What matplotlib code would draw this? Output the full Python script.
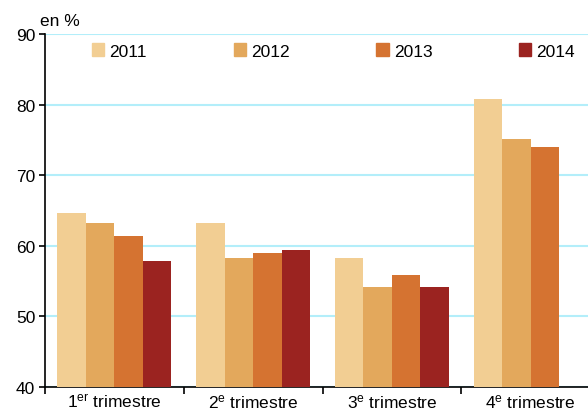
import numpy as np
import matplotlib
matplotlib.use('Agg')
import matplotlib.pyplot as plt
from matplotlib.patches import Patch

plt.rcParams['font.family'] = ['Liberation Sans', 'DejaVu Sans']
plt.rcParams['mathtext.fontset'] = 'custom'
plt.rcParams['mathtext.rm'] = 'Liberation Sans'
plt.rcParams['mathtext.it'] = 'Liberation Sans'

quarters = ['1$^{\\mathrm{er}}$ trimestre', '2$^{\\mathrm{e}}$ trimestre',
            '3$^{\\mathrm{e}}$ trimestre', '4$^{\\mathrm{e}}$ trimestre']
years = ['2011', '2012', '2013', '2014']
v2011 = [64.6, 63.2, 58.3, 80.8]
v2012 = [63.2, 58.3, 54.2, 75.1]
v2013 = [61.4, 59.0, 55.8, 74.0]
v2014 = [57.8, 59.4, 54.2, np.nan]
colors = ['#F2CE93', '#E3A85C', '#D57331', '#9B2320']

fig = plt.figure(figsize=(5.88, 4.14), dpi=100)
# axis runs past the right edge, as in the reference
ax = fig.add_axes([45/588, 1-388/414, 555/588, 353/414])

x = np.arange(len(quarters))
w = 0.205
series = [v2011, v2012, v2013, v2014]
for i, vals in enumerate(series):
    ax.bar(x + (i - 1.5) * w, vals, w, color=colors[i], zorder=3)

ax.set_ylim(40, 90)
ax.set_xlim(-0.5, 3.5)
ax.set_yticks([40, 50, 60, 70, 80, 90])
ax.yaxis.grid(True, color='#B3EEFA', linewidth=1.5, zorder=0)
ax.set_axisbelow(True)
for s in ['top', 'right']:
    ax.spines[s].set_visible(False)
ax.spines['left'].set_linewidth(1.2)
ax.spines['bottom'].set_linewidth(1.2)

ax.set_xticks([-0.5, 0.5, 1.5, 2.5, 3.5])
ax.set_xticklabels([])
ax.set_xticks(x, minor=True)
ax.set_xticklabels(quarters, minor=True, fontsize=12.5)
ax.tick_params(axis='x', which='minor', length=0, pad=4)
ax.tick_params(axis='x', which='major', length=5, width=1.2, direction='out')
ax.tick_params(axis='y', length=4, width=1.2, labelsize=12.5, pad=3)

fig.text(40/588, 1-21/414, 'en %', fontsize=12.5, va='center', ha='left')

handles = [Patch(color=c) for c in colors]
ax.legend(handles, years, ncol=4, loc='center left', frameon=False,
          bbox_to_anchor=(40/555, 1-17/353), fontsize=12.5,
          handlelength=0.7, handleheight=0.7, handletextpad=0.3,
          columnspacing=5.0, borderaxespad=0)

fig.savefig('out.png', dpi=100)
